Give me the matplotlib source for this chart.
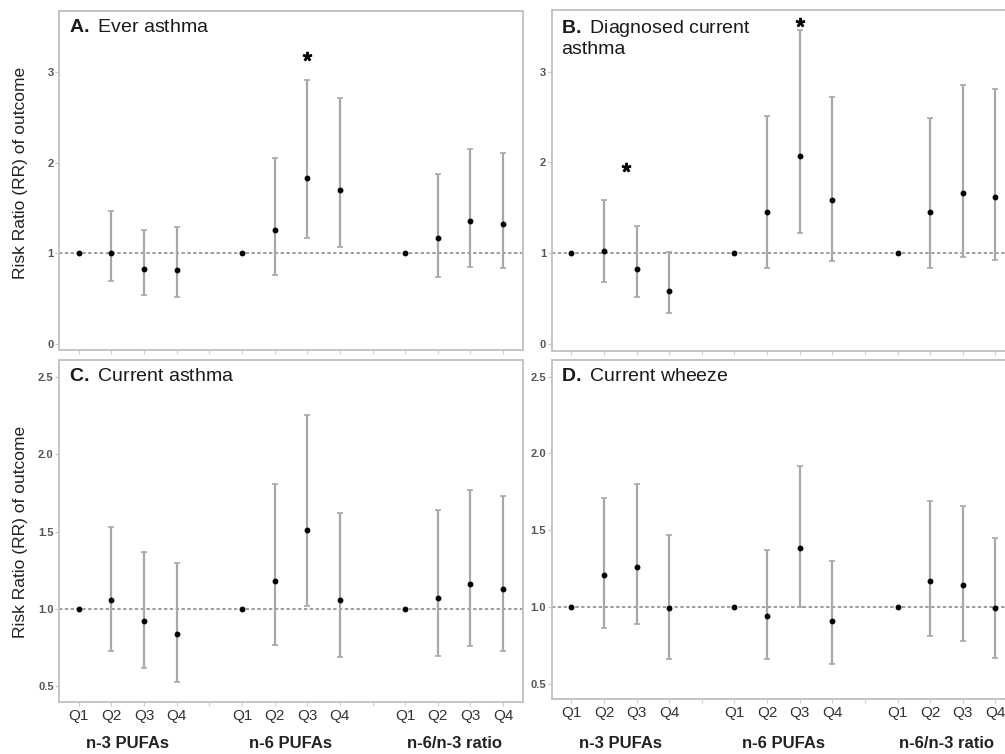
import numpy as np
import matplotlib.pyplot as plt
import matplotlib.transforms as mtransforms

plt.rcParams['font.family'] = ['Liberation Sans', 'DejaVu Sans']
plt.rcParams['mathtext.fontset'] = 'custom'
plt.rcParams['mathtext.rm'] = 'Liberation Sans'
plt.rcParams['mathtext.bf'] = 'Liberation Sans:bold'

nan = np.nan
quartiles = ['Q1', 'Q2', 'Q3', 'Q4']
groups = ['n-3 PUFAs', 'n-6 PUFAs', 'n-6/n-3 ratio']

# order: n-3 Q1..Q4, n-6 Q1..Q4, n-6/n-3 Q1..Q4 (Q1 = reference)
a_rr = [1.00, 1.00, 0.82, 0.81, 1.00, 1.25, 1.83, 1.70, 1.00, 1.17, 1.35, 1.32]
a_lo = [nan, 0.69, 0.54, 0.51, nan, 0.76, 1.17, 1.07, nan, 0.73, 0.85, 0.83]
a_hi = [nan, 1.47, 1.25, 1.29, nan, 2.05, 2.91, 2.71, nan, 1.87, 2.15, 2.11]

b_rr = [1.00, 1.03, 0.83, 0.59, 1.00, 1.45, 2.07, 1.59, 1.00, 1.45, 1.66, 1.62]
b_lo = [nan, 0.68, 0.52, 0.34, nan, 0.84, 1.22, 0.92, nan, 0.84, 0.96, 0.93]
b_hi = [nan, 1.59, 1.30, 1.02, nan, 2.51, 3.46, 2.72, nan, 2.49, 2.85, 2.81]

c_rr = [1.00, 1.06, 0.92, 0.84, 1.00, 1.18, 1.51, 1.06, 1.00, 1.07, 1.16, 1.13]
c_lo = [nan, 0.73, 0.62, 0.53, nan, 0.77, 1.02, 0.69, nan, 0.70, 0.76, 0.73]
c_hi = [nan, 1.53, 1.37, 1.30, nan, 1.81, 2.25, 1.62, nan, 1.64, 1.77, 1.73]

d_rr = [1.00, 1.21, 1.26, 0.99, 1.00, 0.94, 1.38, 0.91, 1.00, 1.17, 1.14, 0.99]
d_lo = [nan, 0.86, 0.89, 0.66, nan, 0.66, 1.00, 0.63, nan, 0.81, 0.78, 0.67]
d_hi = [nan, 1.71, 1.80, 1.47, nan, 1.37, 1.92, 1.30, nan, 1.69, 1.66, 1.45]

# significance stars: (index in list, height, x shift)
a_stars = [(6, 3.18, 0.0)]
b_stars = [(2, 1.95, -0.33), (6, 3.55, 0.0)]

titles = [r'$\bf{A.}$ Ever asthma', r'$\bf{B.}$ Diagnosed current' + '\nasthma',
          r'$\bf{C.}$ Current asthma', r'$\bf{D.}$ Current wheeze']

fig = plt.figure(figsize=(10.05, 7.54), dpi=100)
w = 0.461
boxes = [(0.059, 0.536, w, 0.450), (0.549, 0.535, w, 0.452),
         (0.059, 0.069, w, 0.454), (0.549, 0.073, w, 0.450)]
panels = [(a_rr, a_lo, a_hi, a_stars), (b_rr, b_lo, b_hi, b_stars),
          (c_rr, c_lo, c_hi, []), (d_rr, d_lo, d_hi, [])]

pos = np.array([i + i // 4 + 1 for i in range(12)])
grey = '#a8a8a8'
frame = '#c4c4c4'

for k, (box, (rr, lo, hi, stars)) in enumerate(zip(boxes, panels)):
    ax = fig.add_axes(box)
    rr, lo, hi = np.array(rr), np.array(lo), np.array(hi)
    ax.axhline(1, color='#8c8c8c', lw=1.2, ls=(0, (2, 1.5)), zorder=1)
    ax.errorbar(pos, rr, yerr=[rr - lo, hi - rr], fmt='none', ecolor=grey,
                elinewidth=1.6, capsize=2.2, capthick=1.2, zorder=2)
    ax.plot(pos, rr, 'o', color='black', ms=3.2, zorder=3)
    for idx, y, dx in stars:
        ax.plot(pos[idx] + dx, y, marker=r'$*$', color='black', ms=6, zorder=3)
    ax.set_xlim(0.4, 14.6)
    ax.set_xticks(range(1, 15))
    if k < 2:
        ax.set_ylim(-0.07, 3.68)
        ax.set_yticks([0, 1, 2, 3])
        ax.set_xticklabels([])
    else:
        ax.set_ylim(0.40, 2.61)
        ax.set_yticks([0.5, 1.0, 1.5, 2.0, 2.5])
        ax.set_yticklabels(['0.5', '1.0', '1.5', '2.0', '2.5'])
        labels = []
        for g in range(3):
            labels += quartiles + ([''] if g < 2 else [])
        ax.set_xticklabels(labels, fontsize=11, color='#333333')
        trans = mtransforms.blended_transform_factory(ax.transData, fig.transFigure)
        for g, name in enumerate(groups):
            ax.text(pos[g * 4] + 1.5, 1 - 744 / 754, name, transform=trans,
                    ha='center', va='center', fontsize=12, fontweight='bold', color='#222222')
    for lab in ax.get_yticklabels():
        lab.set_fontweight('bold')
    ax.tick_params(axis='y', labelsize=8, labelcolor='#555555', length=3, width=0.8,
                   color=frame, pad=1)
    ax.tick_params(axis='x', length=3, width=0.8, color='#d0d0d0', pad=2)
    for s in ax.spines.values():
        s.set_color(frame)
        s.set_linewidth(1.4)
    ax.text(0.02, 0.975, titles[k], transform=ax.transAxes, ha='left', va='top',
            fontsize=14, color='#1a1a1a', linespacing=1.1)

fig.text(0.02, 1 - 173 / 754, 'Risk Ratio (RR) of outcome', rotation=90,
         ha='center', va='center', fontsize=12.5, color='#222222')
fig.text(0.02, 1 - 532 / 754, 'Risk Ratio (RR) of outcome', rotation=90,
         ha='center', va='center', fontsize=12.5, color='#222222')

fig.savefig('out.png', dpi=100)
